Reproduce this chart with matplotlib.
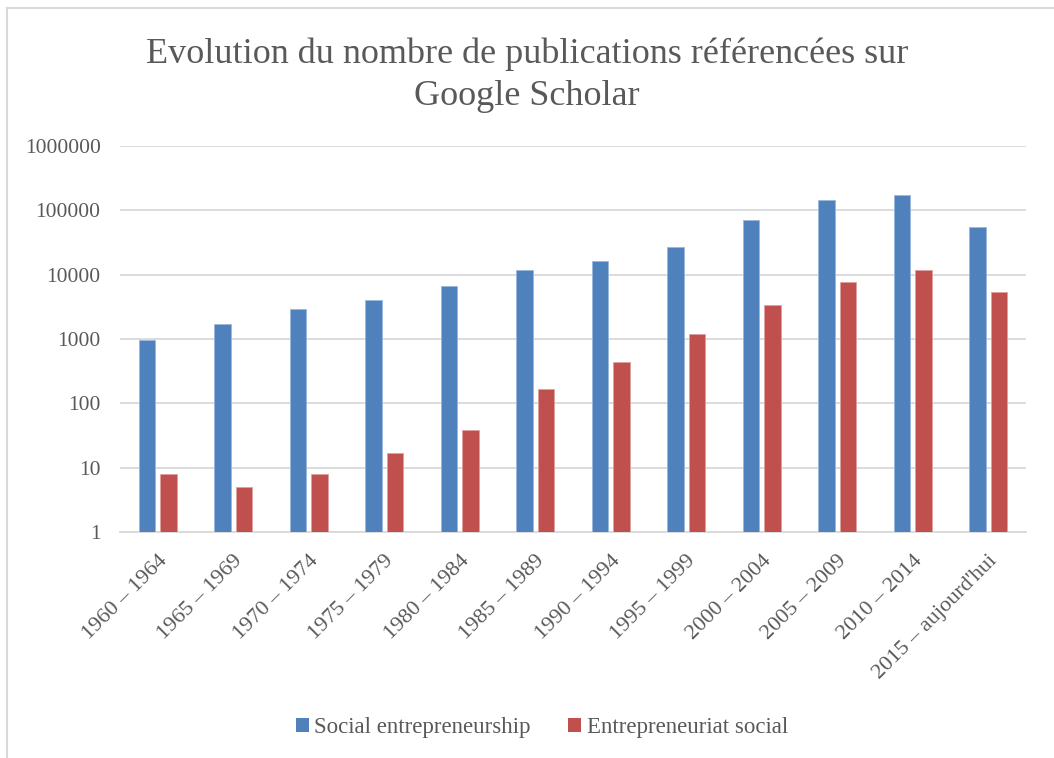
import matplotlib
matplotlib.use("Agg")
import matplotlib.pyplot as plt
import numpy as np
from matplotlib.patches import Patch

categories = ["1960 – 1964", "1965 – 1969", "1970 – 1974", "1975 – 1979",
              "1980 – 1984", "1985 – 1989", "1990 – 1994", "1995 – 1999",
              "2000 – 2004", "2005 – 2009", "2010 – 2014", "2015 – aujourd'hui"]
social_entrepreneurship = [970, 1710, 2930, 4040, 6600, 12000, 16500, 27000,
                           70500, 143000, 171000, 54800]
entrepreneuriat_social = [8, 5, 8, 17, 38, 165, 440, 1200, 3340, 7600, 11700, 5380]
series_names = ["Social entrepreneurship", "Entrepreneuriat social"]
yticks = [1, 10, 100, 1000, 10000, 100000, 1000000]
title = "Evolution du nombre de publications référencées sur\nGoogle Scholar"

plt.rcParams['font.family'] = ['Liberation Serif', 'DejaVu Serif']
blue = "#4F81BD"
red = "#C0504D"
txt = "#595959"

fig = plt.figure(figsize=(10.54, 7.58), dpi=100)
ax = fig.add_axes([0.1139, 0.2982, 0.8595, 0.5092])

x = np.arange(len(categories))
w = 0.22
off = 0.142
ax.bar(x - off, social_entrepreneurship, w, color=blue, edgecolor="#9bb7dd", linewidth=0.6, zorder=3)
ax.bar(x + off, entrepreneuriat_social, w, color=red, edgecolor="#e0a09e", linewidth=0.6, zorder=3)

ax.set_yscale("log")
ax.set_ylim(1, 1000000)
ax.set_xlim(-0.5, len(categories) - 0.5)
ax.set_yticks(yticks)
ax.set_yticklabels([str(v) for v in yticks])
ax.yaxis.set_minor_locator(matplotlib.ticker.NullLocator())
ax.grid(axis="y", color="#d9d9d9", linewidth=1.3, zorder=0)
for s in ["top", "right", "left"]:
    ax.spines[s].set_visible(False)
ax.spines["bottom"].set_color("#d9d9d9")
ax.spines["bottom"].set_linewidth(1.3)
ax.tick_params(axis="both", length=0, colors=txt, labelsize=15.5)
ax.tick_params(axis="y", pad=14)
ax.set_xticks(x)
ax.set_xticklabels(categories, rotation=45, ha="right", rotation_mode="anchor", fontsize=16)
ax.tick_params(axis="x", pad=14)

fig.suptitle(title, y=0.95, fontsize=26, color=txt, linespacing=1.35)

handles = [Patch(facecolor=blue), Patch(facecolor=red)]
fig.legend(handles, series_names, loc="center", bbox_to_anchor=(0.514, 0.040), ncol=2,
           frameon=False, fontsize=16.5, labelcolor=txt, handlelength=0.57, handleheight=0.57,
           handletextpad=0.22, columnspacing=1.66)

# outer chart border
fig.add_artist(plt.Line2D([7/1054, 7/1054], [0, 1 - 8/758], color="#d9d9d9", lw=1.5, transform=fig.transFigure))
fig.add_artist(plt.Line2D([7/1054, 1], [1 - 8/758, 1 - 8/758], color="#d9d9d9", lw=1.5, transform=fig.transFigure))

fig.savefig("out.png", dpi=100)
